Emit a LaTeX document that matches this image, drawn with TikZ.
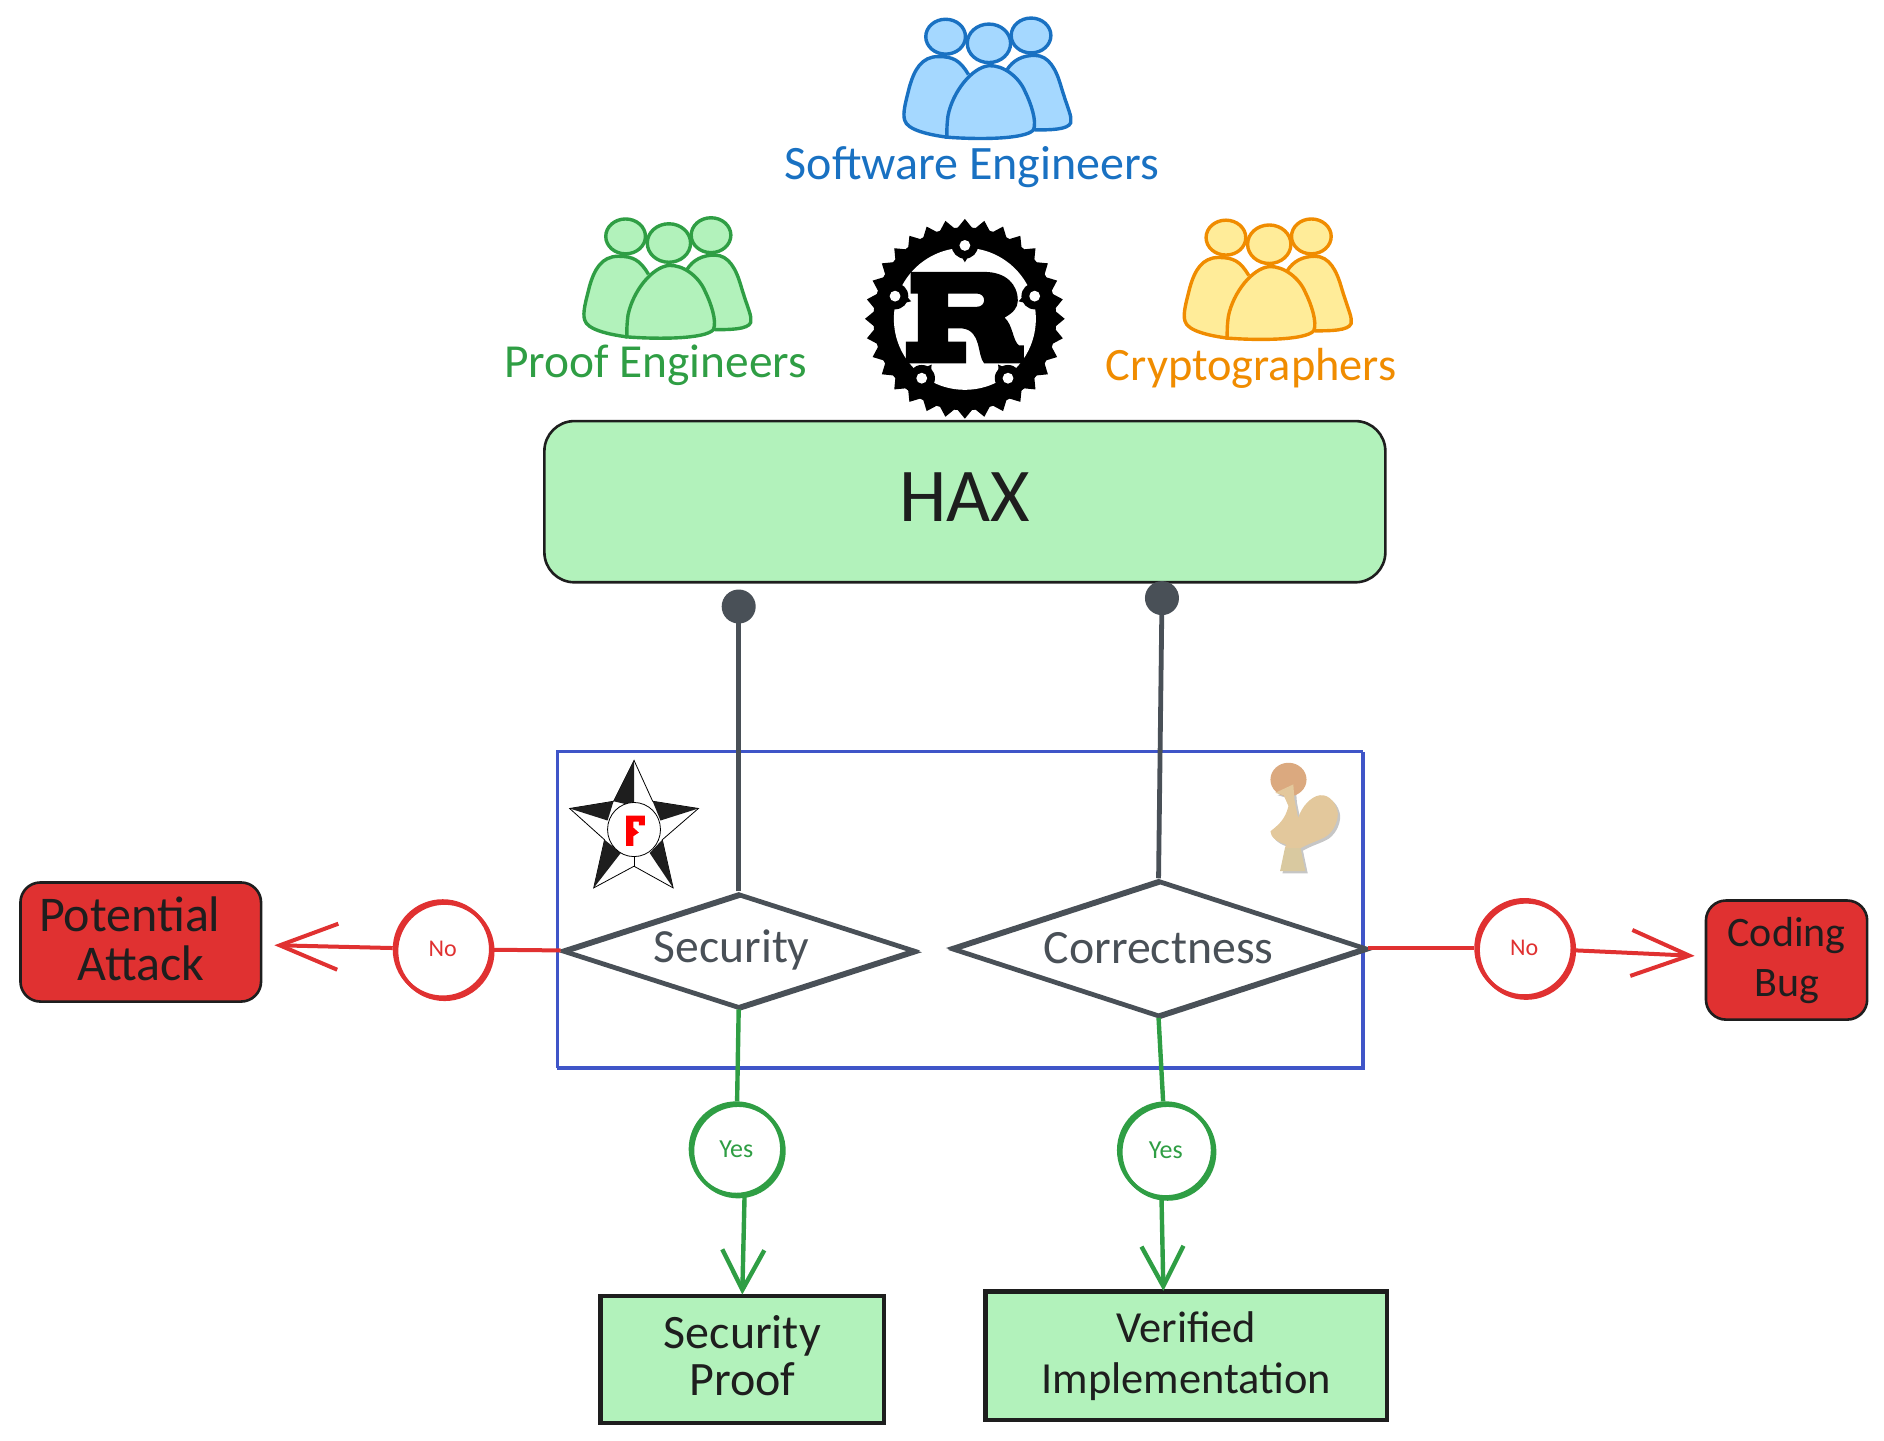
\documentclass[tikz,border=0pt]{standalone}
\usepackage{fontspec}
\setmainfont{Carlito}
\usetikzlibrary{arrows.meta,shapes.geometric}
\definecolor{hand}{HTML}{1E1E1E}
\definecolor{slate}{HTML}{495057}
\definecolor{mint}{HTML}{B2F2BB}
\definecolor{leaf}{HTML}{2F9E44}
\definecolor{alert}{HTML}{E03131}
\definecolor{sky}{HTML}{A5D8FF}
\definecolor{ocean}{HTML}{1971C2}
\definecolor{butter}{HTML}{FFEC99}
\definecolor{amber}{HTML}{F08C00}
\definecolor{frame}{HTML}{3F55C8}
\definecolor{coqhead}{RGB}{219,169,127}
\definecolor{coqbody}{RGB}{227,200,156}
\definecolor{coqbase}{RGB}{217,201,160}
\def\unitpx{0.6015pt}
\tikzset{
  sketch/.style={postaction={draw,transform canvas={xshift=0.9pt,yshift=-0.9pt}}},
  outcome/.style={draw=hand,fill=mint,line width=2.2pt,align=center,text=hand},
  failure/.style={draw=hand,fill=alert,line width=1.3pt,rounded corners=10pt,align=center,text=hand},
  decision/.style={diamond,aspect=3.06,draw=slate,fill=white,line width=1.8pt,inner sep=0pt,text=slate,sketch},
  verdict/.style={circle,line width=1.9pt,fill=white,inner sep=0pt,sketch},
  redline/.style={alert,line width=2pt,>={Straight Barb[length=29pt,width=23pt]}},
  greenline/.style={leaf,line width=2.2pt,>={Straight Barb[length=20pt,width=21pt]}},
  pics/people/.style 2 args={code={
    \filldraw[fill=#1,draw=#2,line width=1.7pt]
      (-17,26) .. controls (-24,14) and (-30,11) .. (-42,11)
      .. controls (-56,11) and (-62,22) .. (-66,36)
      .. controls (-69,48) and (-72,58) .. (-70,64)
      .. controls (-68,72) and (-50,76) .. (-35,78);
    \filldraw[fill=#1,draw=#2,line width=1.7pt]
      (15,22) .. controls (20,14) and (28,10) .. (38,10)
      .. controls (50,10) and (56,22) .. (60,36)
      .. controls (66,56) and (69,60) .. (68,66)
      .. controls (66,72) and (50,72) .. (38,72);
    \filldraw[fill=#1,draw=#2,line width=1.7pt] (-36,-5.5) ellipse [x radius=16.5,y radius=14.5];
    \filldraw[fill=#1,draw=#2,line width=1.7pt] (35,-6.5) ellipse [x radius=16.5,y radius=14.5];
    \filldraw[fill=#1,draw=#2,line width=1.7pt]
      (0,18.6) .. controls (-14,20) and (-30,40) .. (-34,60)
      .. controls (-35,68) and (-35,72) .. (-35,78)
      .. controls (-10,80) and (30,80) .. (37,72)
      .. controls (40,65) and (35,50) .. (30,40)
      .. controls (25,28) and (12,18) .. (0,18.6) -- cycle;
    \filldraw[fill=#1,draw=#2,line width=1.7pt] (0,0) ellipse [x radius=18,y radius=16];
  }}
}
\begin{document}
\begin{tikzpicture}[x=0.6015pt,y=-0.6015pt]
  \useasboundingbox (0,0) rectangle (1566,1197);

  % people
  \pic at (822,36) {people={sky}{ocean}};
  \pic at (556,202) {people={mint}{leaf}};
  \pic at (1055,203) {people={butter}{amber}};
  \node[text=ocean,font=\fontsize{24}{26}\selectfont] (swe) at (808,139) {Software Engineers};
  \node[text=leaf,font=\fontsize{23.7}{26}\selectfont] (pfe) at (545,304) {Proof Engineers};
  \node[text=amber,font=\fontsize{23.2}{26}\selectfont] (cryp) at (1040,306) {Cryptographers};

  % rust logo
  \begin{scope}[shift={(802,265)}]
    \fill[black] (0,0) circle (76);
    \foreach \a in {0,11.25,...,349} {
      \fill[black] (\a-6:74) -- (\a:83) -- (\a+6:74) -- cycle;
    }
    \fill[white] (0,0) circle (59);
    \foreach \a in {-90,-18,54,126,198} {
      \fill[black] (\a:61) circle (11);
      \fill[black] (\a-8:62) -- (\a:47) -- (\a+8:62) -- cycle;
      \fill[white] (\a:61) circle (4.5);
    }
  \end{scope}
  \fill[black,even odd rule] (757,226) -- (818,226) .. controls (836,226) and (846,236) .. (846,250)
    .. controls (846,256) and (842,260) .. (835,264) .. controls (842,270) and (842,284) .. (847,287)
    -- (851,287) -- (851,302) -- (818,302) .. controls (812,295) and (816,275) .. (800,273) -- (788,273)
    -- (788,284) -- (803,284) -- (803,302) -- (753,302) -- (753,284) -- (763,284) -- (763,244) -- (757,244) -- cycle
    (788,244) -- (812,244) .. controls (820,244) and (820,255) .. (812,255) -- (788,255) -- cycle;

  % hax
  \node[draw=hand,fill=mint,line width=1.3pt,rounded corners=15pt,text=hand,
        minimum width={699*\unitpx},minimum height={134*\unitpx},text depth=4.8pt,
        font=\fontsize{38}{42}\selectfont] (hax) at (802,417) {HAX};

  % verification frame
  \draw[frame,line width=0.9pt,sketch] (462.5,624) rectangle (1132,887);
  \coordinate (secdot) at (614,490);
  \coordinate (cordot) at (966,483);

  \node[decision,minimum width={293*\unitpx},minimum height={95*\unitpx},
        font=\fontsize{23.8}{26}\selectfont] (security) at (614,790) {Security\hspace*{7pt}};
  \node[decision,minimum width={345*\unitpx},minimum height={113*\unitpx},
        font=\fontsize{23.9}{26}\selectfont] (correct) at (963,788) {Correctness};
  \draw[slate,line width=2.4pt,-{Circle[length=17pt,width=17pt]}] (security.north) -- (secdot);
  \draw[slate,line width=2.4pt,-{Circle[length=17pt,width=17pt]}] (correct.north) -- (cordot);

  % fstar logo
  \draw[black,line width=0.4pt,fill=white] (527,632) -- (542.5,666) -- (580.5,672) -- (550.5,698)
    -- (559.5,738) -- (527,720) -- (493.5,738) -- (502.5,698) -- (473.5,672) -- (510,666) -- cycle;
  \fill[hand] (527,632) -- (510,666) -- (527,670) -- cycle;
  \fill[hand] (580.5,672) -- (542.5,666) -- (549,682) -- cycle;
  \fill[hand] (559.5,738) -- (550.5,698) -- (540,709) -- cycle;
  \fill[hand] (493.5,738) -- (502.5,698) -- (516,709) -- cycle;
  \fill[hand] (473.5,672) -- (510,666) -- (505,682) -- cycle;
  \draw[black,line width=0.4pt,fill=white] (527,689.5) ellipse [x radius=22,y radius=22.5];
  \draw[black,line width=0.4pt] (527,712) -- (527,720);
  \fill[red] (520.4,678) -- (536,678) -- (536,686) -- (531,686) -- (531,683) -- (526.5,683) -- (526.5,688)
    -- (531,692) -- (526.5,695) -- (526.5,703) -- (520.4,703) -- cycle;

  % coq logo
  \fill[gray,opacity=.45,shift={(2,2)}] (1060,659) -- (1075,652) -- (1076,665) -- (1079,680)
      .. controls (1082,670) and (1090,662) .. (1097,661) .. controls (1105,660) and (1111,668) .. (1112,676)
      .. controls (1112,684) and (1108,690) .. (1105,693) .. controls (1100,698) and (1092,699) .. (1081,705)
      -- (1085,724) -- (1064,724) -- (1068,705) -- (1069,702) .. controls (1062,700) and (1056,696) .. (1056,691)
      .. controls (1062,686) and (1068,682) .. (1071,670) -- (1067,661) -- cycle;
  \fill[coqhead] (1071,648) ellipse [x radius=15,y radius=14];
  \fill[coqbody] (1060,659) -- (1075,652) -- (1076,665) -- (1079,680)
      .. controls (1082,670) and (1090,662) .. (1097,661) .. controls (1105,660) and (1111,668) .. (1112,676)
      .. controls (1112,684) and (1108,690) .. (1105,693) .. controls (1100,698) and (1092,699) .. (1081,705)
      -- (1068,705) -- (1069,702) .. controls (1062,700) and (1056,696) .. (1056,691)
      .. controls (1062,686) and (1068,682) .. (1071,670) -- (1067,661) -- cycle;
  \fill[coqbase] (1068,705) -- (1081,705) -- (1085,724) -- (1064,724) -- cycle;

  % outcomes
  \node[failure,minimum width={200*\unitpx},minimum height={99*\unitpx},text depth=3.6pt,
        font=\fontsize{25}{24.6}\selectfont] (attack) at (117,783) {Potential\hspace*{11pt}\\Attack};
  \node[failure,minimum width={134*\unitpx},minimum height={99*\unitpx},
        font=\fontsize{21}{25}\selectfont] (bug) at (1485,798) {Coding\\Bug};
  \node[outcome,minimum width={236*\unitpx},minimum height={106*\unitpx},text depth=3.6pt,
        font=\fontsize{24}{23.5}\selectfont] (proof) at (617,1130) {Security\\Proof};
  \node[outcome,minimum width={334*\unitpx},minimum height={107*\unitpx},
        font=\fontsize{22.2}{25.5}\selectfont] (impl) at (986,1127) {Verified\\Implementation};

  % verdicts
  \node[verdict,draw=alert,text=alert,minimum size={80*\unitpx},font=\fontsize{12}{14}\selectfont] (noleft) at (368,789) {No};
  \node[verdict,draw=alert,text=alert,minimum size={80*\unitpx},font=\fontsize{12}{14}\selectfont] (noright) at (1267,788) {No};
  \node[verdict,draw=leaf,text=leaf,minimum size={76*\unitpx},font=\fontsize{13}{15}\selectfont] (yesleft) at (612,955) {Yes};
  \node[verdict,draw=leaf,text=leaf,minimum size={78*\unitpx},font=\fontsize{13}{15}\selectfont] (yesright) at (969,956) {Yes};
  \coordinate (proofin) at (617,1076);
  \coordinate (implin) at (967,1073);

  \draw[redline] (security.west) -- (noleft);
  \draw[redline,->,shorten >=6pt] (noleft) -- (attack);
  \draw[redline] (correct.east) -- (noright);
  \draw[redline,->,shorten >=5pt] (noright) -- (bug);
  \draw[greenline] (security.south) -- (yesleft);
  \draw[greenline,->] (yesleft.-80) -- (proofin);
  \draw[greenline] (correct.south) -- (yesright);
  \draw[greenline,->] (yesright.-95) -- (implin);
\end{tikzpicture}
\end{document}
